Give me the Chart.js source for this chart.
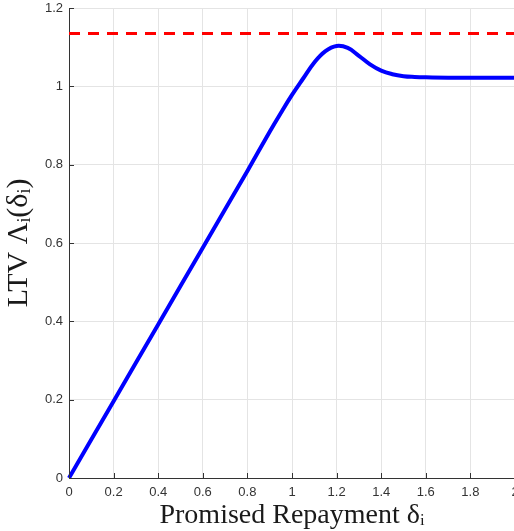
<!DOCTYPE html>
<html>
<head>
<meta charset="utf-8">
<script src="https://cdn.jsdelivr.net/npm/chart.js@4.4.0/dist/chart.umd.min.js"></script>
<style>
	html, body { margin: 0; padding: 0; background: #fff; overflow: hidden; }
	#caixa { width: 530px; height: 531px; }
</style>
</head>
<body>
<div id="caixa"><canvas id="grafico-ltv"></canvas></div>
<script>
	// valores
	var repagamento = [0, 0.2, 0.4, 0.6, 0.8, 0.9, 0.95, 1.0, 1.05, 1.1, 1.15, 1.2, 1.25, 1.3, 1.35, 1.4, 1.45, 1.5, 1.55, 1.6, 1.7, 1.8, 2.0];
	var ltv = [0, 0.196, 0.392, 0.588, 0.784, 0.884, 0.932, 0.978, 1.02, 1.061, 1.09, 1.103, 1.098, 1.078, 1.056, 1.04, 1.031, 1.026, 1.024, 1.023, 1.022, 1.022, 1.022];
	var limiteX = [0, 2];
	var limiteLtv = 1.135;

	var corEixo = '#333333';
	var corGrade = '#e4e4e4';

	function montarPontos(xs, ys) {
		var pts = [];
		for (var i = 0; i < xs.length; i++) {
			pts.push({ x: xs[i], y: ys[i] });
		}
		return pts;
	}

	// marcas para dentro, estilo matlab
	var marcasInternas = {
		id: 'marcasInternas',
		afterDraw: function (chart) {
			var ctx = chart.ctx;
			var sx = chart.scales.x;
			var sy = chart.scales.y;
			var area = chart.chartArea;
			ctx.save();
			ctx.strokeStyle = corEixo;
			ctx.lineWidth = 1;
			ctx.beginPath();
			sx.ticks.forEach(function (t) {
				var px = Math.round(sx.getPixelForValue(t.value)) + 0.5;
				ctx.moveTo(px, area.bottom);
				ctx.lineTo(px, area.bottom - 5);
			});
			sy.ticks.forEach(function (t) {
				var py = Math.round(sy.getPixelForValue(t.value)) + 0.5;
				ctx.moveTo(area.left, py);
				ctx.lineTo(area.left + 5, py);
			});
			ctx.stroke();
			ctx.restore();
		}
	};

	function formatarTick(v) {
		return String(+(+v).toFixed(1));
	}

	var ctx = document.getElementById('grafico-ltv');
	var dados = {
		datasets: [
		{
			label: 'LTV',
			data: montarPontos(repagamento, ltv),
			borderColor: '#0000ff',
			backgroundColor: '#0000ff',
			borderWidth: 4,
			pointRadius: 0,
			fill: false,
			tension: 0.4,
			clip: false
		},
		{
			label: 'limite',
			data: montarPontos(limiteX, [limiteLtv, limiteLtv]),
			borderColor: '#ff0000',
			backgroundColor: '#ff0000',
			borderWidth: 3,
			borderDash: [11, 8],
			pointRadius: 0,
			fill: false,
			clip: false
		}
		]
	};

	var opcoes = {
		responsive: true,
		maintainAspectRatio: false,
		animation: false,
		layout: { padding: { top: 8, right: 15, left: 0, bottom: 0 } },
		plugins: {
			legend: { display: false },
			tooltip: { enabled: false }
		},
		scales: {
			x: {
				type: 'linear',
				min: 0,
				max: 2,
				ticks: {
					stepSize: 0.2,
					padding: 7,
					color: corEixo,
					font: { family: 'Liberation Sans', size: 13 },
					maxRotation: 0,
					callback: formatarTick
				},
				grid: { color: corGrade, drawTicks: false },
				border: { display: true, color: corEixo, width: 1 },
				title: {
					display: true,
					text: 'Promised Repayment δᵢ',
					color: '#1a1a1a',
					font: { family: 'Liberation Serif', size: 28, lineHeight: 1 },
					padding: { top: 0, bottom: 1 }
				},
				afterFit: function (s) { s.height = 53; s.paddingRight = 0; }
			},
			y: {
				type: 'linear',
				min: 0,
				max: 1.2,
				ticks: {
					stepSize: 0.2,
					padding: 6,
					color: corEixo,
					font: { family: 'Liberation Sans', size: 13 },
					callback: formatarTick
				},
				grid: { color: corGrade, drawTicks: false },
				border: { display: true, color: corEixo, width: 1 },
				title: {
					display: true,
					text: 'LTV Λᵢ(δᵢ)',
					color: '#1a1a1a',
					font: { family: 'Liberation Serif', size: 30, lineHeight: 1 },
					padding: { top: 4, bottom: 0 }
				},
				afterFit: function (s) { s.width = 69; s.paddingTop = 0; s.paddingBottom = 0; }
			}
		}
	};

	var graficoLtv = new Chart(ctx, {
		type: 'line',
		data: dados,
		options: opcoes,
		plugins: [marcasInternas]
	});
</script>
</body>
</html>
